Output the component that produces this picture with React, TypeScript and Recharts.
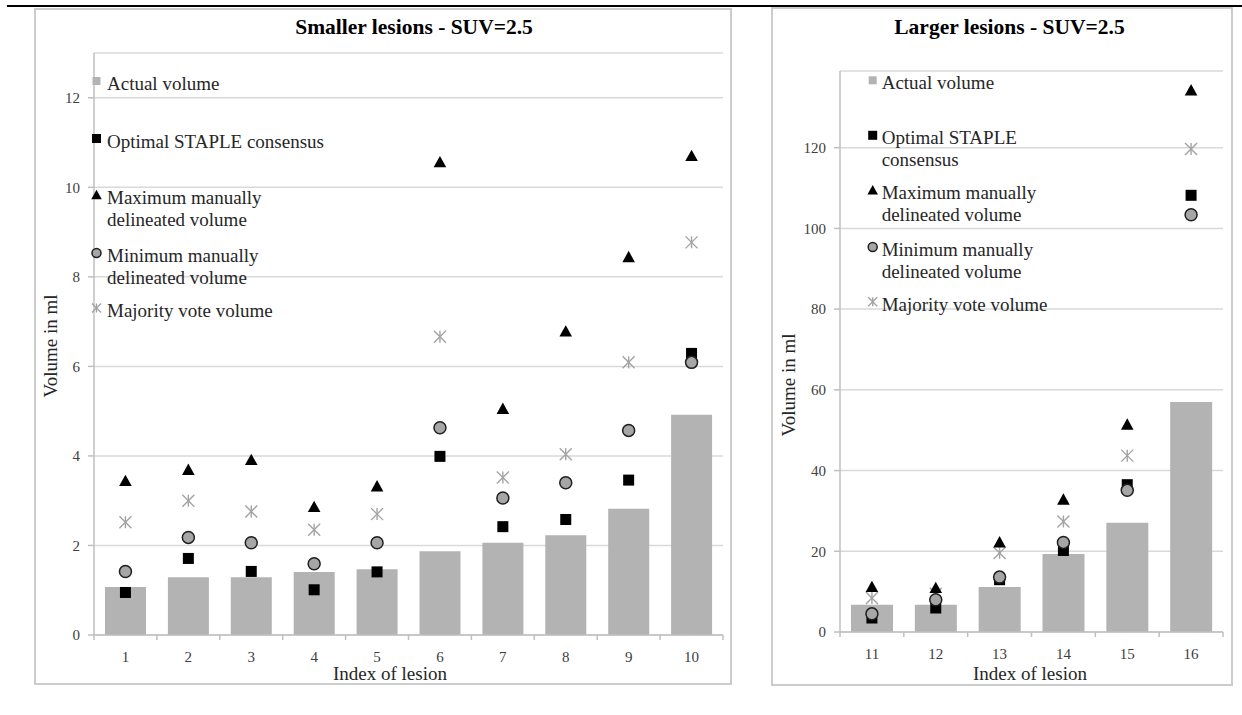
import { ComposedChart, Bar, Scatter, XAxis, YAxis, CartesianGrid, Legend } from 'recharts'

const SERIF = '"Liberation Serif", "Times New Roman", serif'
const AXIS = '#bfbfbf'
const GRID = '#d9d9d9'
const BAR = '#b3b3b3'
const TEXT = '#262626'

// series names, in legend order
const seriesNames = [
  'Actual volume',
  'Optimal STAPLE consensus',
  'Maximum manually delineated volume',
  'Minimum manually delineated volume',
  'Majority vote volume',
]

// smaller lesions (1-10)
const smallLesions = ['1', '2', '3', '4', '5', '6', '7', '8', '9', '10']
const smallActual = [1.07, 1.29, 1.29, 1.41, 1.47, 1.87, 2.06, 2.23, 2.82, 4.92]
const smallStaple = [0.95, 1.71, 1.42, 1.01, 1.41, 3.99, 2.42, 2.58, 3.46, 6.29]
const smallMax = [3.44, 3.69, 3.91, 2.86, 3.32, 10.56, 5.05, 6.78, 8.44, 10.7]
const smallMin = [1.42, 2.18, 2.06, 1.59, 2.06, 4.63, 3.06, 3.4, 4.57, 6.09]
const smallMajority = [2.52, 3.0, 2.76, 2.35, 2.7, 6.66, 3.52, 4.04, 6.09, 8.77]
const smallTicks = [0, 2, 4, 6, 8, 10, 12]

// larger lesions (11-16)
const largeLesions = ['11', '12', '13', '14', '15', '16']
const largeActual = [6.77, 6.77, 11.15, 19.33, 27.09, 57.0]
const largeStaple = [3.47, 5.95, 12.96, 20.2, 36.5, 108.2]
const largeMax = [11.15, 10.9, 22.2, 32.8, 51.4, 134.2]
const largeMin = [4.5, 8.0, 13.6, 22.2, 35.1, 103.4]
const largeMajority = [8.4, 9.5, 19.6, 27.4, 43.7, 119.7]
const largeTicks = [0, 20, 40, 60, 80, 100, 120]

type Kind = 'bar' | 'square' | 'triangle' | 'circle' | 'star'
const kinds: Kind[] = ['bar', 'square', 'triangle', 'circle', 'star']
const legendSizes = [8, 9, 10, 10, 9]

function marker(kind: Kind, cx: number, cy: number, s: number, key?: string) {
  const h = s / 2
  if (kind === 'bar') return <rect key={key} x={cx - h} y={cy - h} width={s} height={s} fill={BAR} />
  if (kind === 'square') return <rect key={key} x={cx - h} y={cy - h} width={s} height={s} fill="#000" />
  if (kind === 'triangle')
    return <polygon key={key} points={`${cx},${cy - h * 1.05} ${cx + h * 1.05},${cy + h * 0.85} ${cx - h * 1.05},${cy + h * 0.85}`} fill="#000" />
  if (kind === 'circle')
    return <circle key={key} cx={cx} cy={cy} r={h - 0.5} fill="#a6a6a6" stroke="#1f1f1f" strokeWidth={1.5} />
  return (
    <g key={key} stroke="#a3a3a3" strokeWidth={1.4}>
      <line x1={cx - h} y1={cy - h} x2={cx + h} y2={cy + h} />
      <line x1={cx - h} y1={cy + h} x2={cx + h} y2={cy - h} />
      <line x1={cx} y1={cy - h} x2={cx} y2={cy + h} />
    </g>
  )
}

const dot = (kind: Kind, s: number) => (p: any) => marker(kind, p.cx, p.cy, s)

function LesionTick(props: any) {
  const { x, y, payload, index, step, count } = props
  return (
    <g>
      <line x1={x - step / 2} y1={y} x2={x - step / 2} y2={y + 5} stroke={AXIS} strokeWidth={1.5} />
      {index === count - 1 && <line x1={x + step / 2} y1={y} x2={x + step / 2} y2={y + 5} stroke={AXIS} strokeWidth={1.5} />}
      <text x={x} y={y + 27} textAnchor="middle" fontFamily={SERIF} fontSize={15} fill="#404040">{payload.value}</text>
    </g>
  )
}

type PanelProps = {
  lesions: string[]
  actual: number[]
  staple: number[]
  max: number[]
  min: number[]
  majority: number[]
  ticks: number[]
  yMax: number
  box: { left: number; top: number; width: number; height: number }
  margin: { top: number; right: number }
  yAxisWidth: number
  xAxisHeight: number
  barSize: number
  legendLabels: string[][]
  legendBaselines: number[]
  legendLineGap: number
  legendMarkX: number
  legendTextX: number
}

function Panel(p: PanelProps) {
  const data = p.lesions.map((lesion, i) => ({
    lesion,
    actual: p.actual[i],
    staple: p.staple[i],
    max: p.max[i],
    min: p.min[i],
    majority: p.majority[i],
  }))
  const step = (p.box.width - p.yAxisWidth - p.margin.right) / p.lesions.length

  const renderLegend = () => (
    <svg width={p.box.width} height={p.box.height} style={{ overflow: 'visible' }}>
      {p.legendLabels.map((lines, i) => (
        <g key={i}>
          {marker(kinds[i], p.legendMarkX, p.legendBaselines[i] - 9, legendSizes[i])}
          {lines.map((t, j) => (
            <text key={j} x={p.legendTextX} y={p.legendBaselines[i] + j * p.legendLineGap}
              fontFamily={SERIF} fontSize={19} fill={TEXT}>{t}</text>
          ))}
        </g>
      ))}
    </svg>
  )

  return (
    <div style={{ position: 'absolute', left: p.box.left, top: p.box.top }}>
      <ComposedChart width={p.box.width} height={p.box.height} data={data}
        margin={{ top: p.margin.top, right: p.margin.right, left: 0, bottom: 0 }}>
        <CartesianGrid horizontal vertical={false} stroke={GRID} strokeWidth={1.5} />
        <XAxis dataKey="lesion" height={p.xAxisHeight} interval={0} tickSize={0} tickMargin={0} tickLine={false}
          axisLine={{ stroke: AXIS, strokeWidth: 1.5 }}
          tick={(t: any) => <LesionTick {...t} step={step} count={p.lesions.length} />} />
        <YAxis width={p.yAxisWidth} domain={[0, p.yMax]} ticks={p.ticks} allowDataOverflow
          axisLine={{ stroke: AXIS, strokeWidth: 1.5 }} tickLine={{ stroke: AXIS, strokeWidth: 1.5 }}
          tickSize={6} tickMargin={8}
          tick={{ fontSize: 15, fontFamily: SERIF, fill: '#404040' }} />
        <Legend layout="vertical" align="center" verticalAlign="middle"
          wrapperStyle={{ left: 0, top: 0, width: p.box.width, height: p.box.height }}
          content={renderLegend} />
        <Bar dataKey="actual" fill={BAR} barSize={p.barSize} isAnimationActive={false} />
        <Scatter dataKey="staple" shape={dot('square', 11)} isAnimationActive={false} />
        <Scatter dataKey="majority" shape={dot('star', 12)} isAnimationActive={false} />
        <Scatter dataKey="max" shape={dot('triangle', 12)} isAnimationActive={false} />
        <Scatter dataKey="min" shape={dot('circle', 13)} isAnimationActive={false} />
      </ComposedChart>
    </div>
  )
}

const boxStyle = (l: number, t: number, w: number, h: number): React.CSSProperties => ({
  position: 'absolute', left: l - 1, top: t - 1, width: w + 2, height: h + 2,
  border: '2px solid #cccccc', boxSizing: 'border-box', background: '#fff',
})

export default function App() {
  const small = { left: 35, top: 9, width: 696, height: 675 }
  const large = { left: 772, top: 8, width: 460, height: 677 }
  return (
    <div style={{ position: 'absolute', left: 0, top: 0, width: 1242, height: 715, background: '#fff', overflow: 'hidden' }}>
      <div style={{ position: 'absolute', left: 7, top: 5, width: 1235, height: 2, background: '#000' }} />
      <div style={boxStyle(small.left, small.top, small.width, small.height)} />
      <div style={boxStyle(large.left, large.top, large.width, large.height)} />
      <Panel
        lesions={smallLesions} actual={smallActual} staple={smallStaple} max={smallMax} min={smallMin} majority={smallMajority}
        ticks={smallTicks} yMax={13} box={small} margin={{ top: 44, right: 8 }} yAxisWidth={59} xAxisHeight={49} barSize={41}
        legendLabels={[[seriesNames[0]], [seriesNames[1]], ['Maximum manually', 'delineated volume'], ['Minimum manually', 'delineated volume'], [seriesNames[4]]]}
        legendBaselines={[81, 138.5, 195, 253, 308]} legendLineGap={22} legendMarkX={61.5} legendTextX={72}
      />
      <Panel
        lesions={largeLesions} actual={largeActual} staple={largeStaple} max={largeMax} min={largeMin} majority={largeMajority}
        ticks={largeTicks} yMax={139} box={large} margin={{ top: 63, right: 9 }} yAxisWidth={68} xAxisHeight={53} barSize={42}
        legendLabels={[[seriesNames[0]], ['Optimal STAPLE', 'consensus'], ['Maximum manually', 'delineated volume'], ['Minimum manually', 'delineated volume'], [seriesNames[4]]]}
        legendBaselines={[81.3, 136.3, 191.3, 248, 302.7]} legendLineGap={21.5} legendMarkX={100.7} legendTextX={109.7}
      />
      <svg width={1242} height={715} style={{ position: 'absolute', left: 0, top: 0, pointerEvents: 'none' }}>
        <text x={414} y={34} textAnchor="middle" fontFamily={SERIF} fontWeight="bold" fontSize={21.5} fill="#000">Smaller lesions - SUV=2.5</text>
        <text x={1009.5} y={34} textAnchor="middle" fontFamily={SERIF} fontWeight="bold" fontSize={21.5} fill="#000">Larger lesions - SUV=2.5</text>
        <text x={390} y={680} textAnchor="middle" fontFamily={SERIF} fontSize={19} fill={TEXT}>Index of lesion</text>
        <text x={1030} y={680} textAnchor="middle" fontFamily={SERIF} fontSize={19} fill={TEXT}>Index of lesion</text>
        <text transform="translate(57,346) rotate(-90)" textAnchor="middle" fontFamily={SERIF} fontSize={19} fill={TEXT}>Volume in ml</text>
        <text transform="translate(795,385) rotate(-90)" textAnchor="middle" fontFamily={SERIF} fontSize={19} fill={TEXT}>Volume in ml</text>
      </svg>
    </div>
  )
}
